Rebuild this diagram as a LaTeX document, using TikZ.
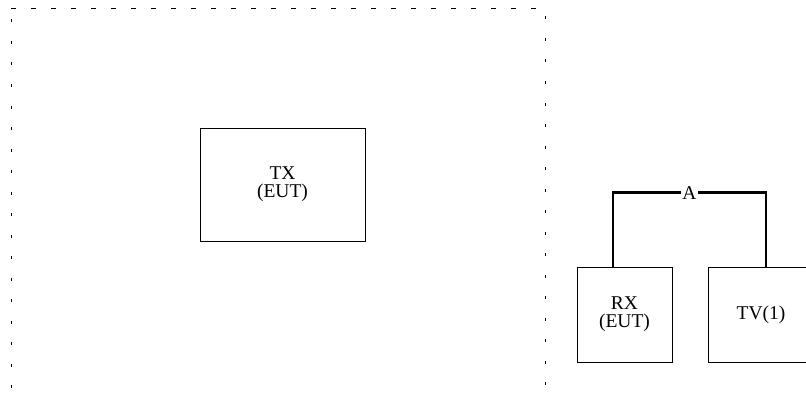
\documentclass[tikz,border=0pt]{standalone}
\usepackage{fontspec}
\setmainfont{Liberation Serif}
\begin{document}
\begin{tikzpicture}[x=1pt,y=-1pt,
  unitbox/.style={draw,line width=0.8pt,inner sep=0pt,align=center,
    font=\fontsize{19.5}{18}\selectfont},
  cable/.style={line width=2.3pt},
  hdash/.style={line width=0.9pt,dash pattern=on 5pt off 15pt},
  vdash/.style={line width=0.9pt,dash pattern=on 3pt off 18.5pt}]
\useasboundingbox (0,0) rectangle (806,396);
% dashed enclosure (no bottom edge visible)
\draw[hdash] (11,8) -- (545,8);
\draw[vdash] (11,19.5) -- (11,400);
\draw[vdash] (545,16.5) -- (545,400);
% units
\node[unitbox,minimum width=165pt,minimum height=113pt] (TX) at (282.5,184.5) {TX\\(EUT)};
\node[unitbox,minimum width=95pt,minimum height=95pt] (RX) at (624.5,314.5) {RX\\(EUT)};
\node[unitbox,minimum width=106pt,minimum height=95pt] (TV) at (761,314.5) {TV(1)};
% cable A
\draw[cable] ([xshift=-11.5pt]RX.north) -- ++(0,-74) coordinate (ca)
  -- node[fill=white,inner sep=1.5pt,font=\fontsize{19.5}{18}\selectfont] (A) {A} (ca -| 766,0) coordinate (cb)
  -- ([xshift=5pt]TV.north);
\end{tikzpicture}
\end{document}
